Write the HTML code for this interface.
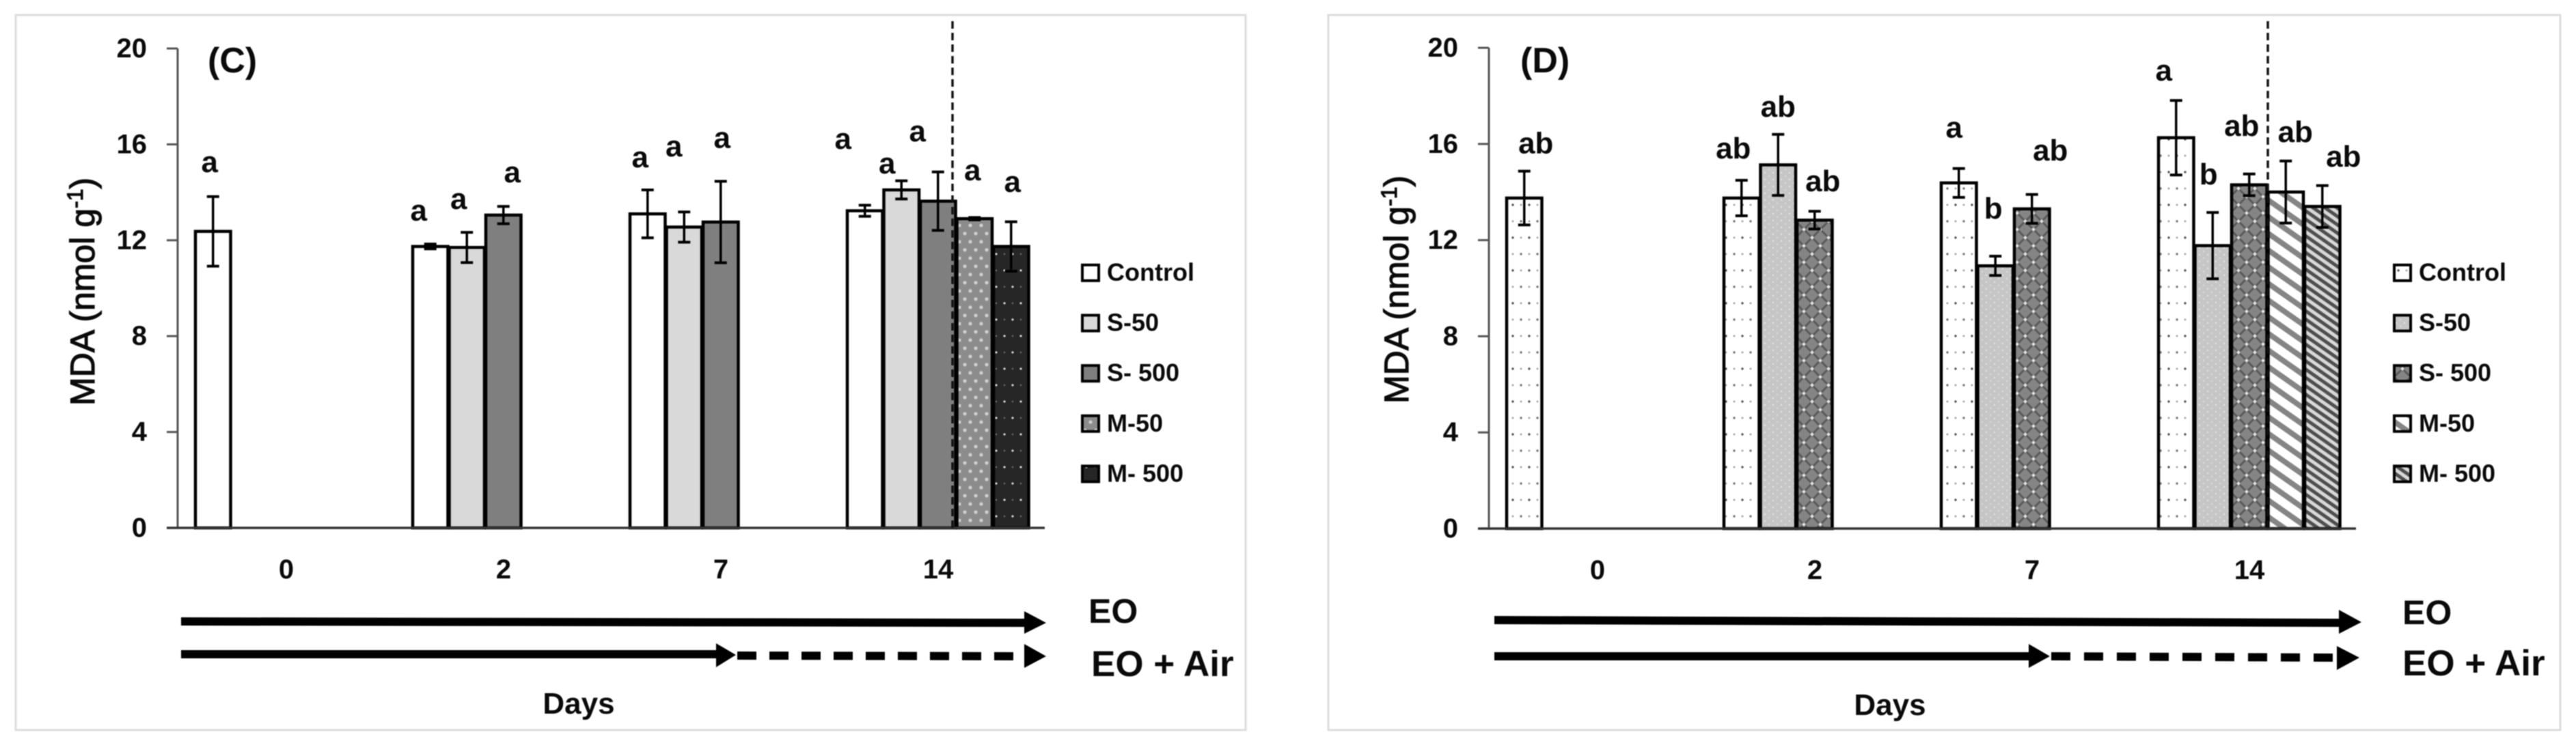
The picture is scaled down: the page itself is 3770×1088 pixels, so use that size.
<!DOCTYPE html>
<html lang="en">
<head>
<meta charset="utf-8">
<title>MDA content panels C and D</title>
<style>
html,body{margin:0;padding:0;background:#fff;width:3770px;height:1088px;overflow:hidden}
svg{display:block;filter:blur(0.7px)}
text{font-family:"Liberation Sans",sans-serif;fill:#0a0a0a}
.b{font-weight:700}
</style>
</head>
<body>
<svg id="figure" xmlns="http://www.w3.org/2000/svg" width="3770" height="1088" viewBox="0 0 3770 1088">
  <defs>
    <pattern id="pWhite" patternUnits="userSpaceOnUse" width="10" height="10"><rect width="10" height="10" fill="#fff"/></pattern>
    <pattern id="pLight" patternUnits="userSpaceOnUse" width="10" height="10"><rect width="10" height="10" fill="#d9d9d9"/></pattern>
    <pattern id="pMid" patternUnits="userSpaceOnUse" width="10" height="10"><rect width="10" height="10" fill="#7f7f7f"/></pattern>
    <pattern id="pGrayDots" patternUnits="userSpaceOnUse" width="16" height="24">
      <rect width="16" height="24" fill="#8c8c8c"/>
      <circle cx="4" cy="6" r="2.6" fill="#cfcfcf"/><circle cx="12" cy="18" r="2.6" fill="#cfcfcf"/>
    </pattern>
    <pattern id="pDarkDots" patternUnits="userSpaceOnUse" width="24" height="48">
      <rect width="24" height="48" fill="#262626"/>
      <circle cx="6" cy="12" r="1.6" fill="#dcdcdc"/><circle cx="18" cy="36" r="1.6" fill="#dcdcdc"/>
      <circle cx="6" cy="36" r="1.2" fill="#777"/><circle cx="18" cy="12" r="1.2" fill="#777"/>
    </pattern>
    <pattern id="pWhiteDots" patternUnits="userSpaceOnUse" width="24" height="48">
      <rect width="24" height="48" fill="#fff"/>
      <circle cx="6" cy="12" r="1.7" fill="#555"/><circle cx="18" cy="36" r="1.7" fill="#777"/>
      <circle cx="6" cy="36" r="1.4" fill="#999"/><circle cx="18" cy="12" r="1.4" fill="#999"/>
    </pattern>
    <pattern id="pSilverDots" patternUnits="userSpaceOnUse" width="12" height="10">
      <rect width="12" height="10" fill="#c6c6c6"/>
      <circle cx="3" cy="3" r="1.2" fill="#e6e6e6"/><circle cx="9" cy="8" r="1.2" fill="#dcdcdc"/>
    </pattern>
    <pattern id="pLattice" patternUnits="userSpaceOnUse" width="24" height="24">
      <rect width="24" height="24" fill="#858585"/>
      <path d="M0 0L24 24M24 0L0 24" stroke="#5a5a5a" stroke-width="3"/>
      <circle cx="12" cy="12" r="2.4" fill="#e0e0e0"/><circle cx="0" cy="0" r="2.4" fill="#e0e0e0"/>
      <circle cx="24" cy="0" r="2.4" fill="#e0e0e0"/><circle cx="0" cy="24" r="2.4" fill="#e0e0e0"/><circle cx="24" cy="24" r="2.4" fill="#e0e0e0"/>
    </pattern>
    <pattern id="pWideStripe" patternUnits="userSpaceOnUse" width="20" height="20" patternTransform="rotate(35)">
      <rect width="20" height="20" fill="#fff"/><rect y="12" width="20" height="8" fill="#858585"/>
    </pattern>
    <pattern id="pFineStripe" patternUnits="userSpaceOnUse" width="10" height="10" patternTransform="rotate(35)">
      <rect width="10" height="10" fill="#d8d8d8"/><rect y="5" width="10" height="5" fill="#4f4f4f"/>
    </pattern>
  </defs>

  <rect x="23" y="22" width="1800" height="1047" fill="#fff" stroke="#dcdcdc" stroke-width="3"/>
  <rect x="1944" y="22" width="1803" height="1047" fill="#fff" stroke="#dcdcdc" stroke-width="3"/>

  <g id="panelC"></g>
  <g id="panelD"></g>

  <text class="b" x="304" y="106" font-size="52">(C)</text>
  <text class="b" x="2225" y="106" font-size="52">(D)</text>

  <text transform="translate(138 594) rotate(-90)" font-size="50" stroke="#0a0a0a" stroke-width="1.2">MDA (nmol g<tspan dy="-17" font-size="32">-1</tspan><tspan dy="17">)</tspan></text>
  <text transform="translate(2061 591) rotate(-90)" font-size="50" stroke="#0a0a0a" stroke-width="1.2">MDA (nmol g<tspan dy="-17" font-size="32">-1</tspan><tspan dy="17">)</tspan></text>

  <g>
    <polygon points="265,904 1500,906 1500,918 265,916" fill="#000"/>
    <polygon points="1499,895 1531,912 1499,928" fill="#000"/>
  </g>
  <g>
    <rect x="265" y="952" width="785" height="12" fill="#000"/>
    <polygon points="1048,942 1077,959 1048,977" fill="#000"/>
    <line x1="1079" y1="960" x2="1499" y2="961" stroke="#000" stroke-width="12" stroke-dasharray="28 19"/>
    <polygon points="1499,943 1531,961 1499,978" fill="#000"/>
  </g>
  <g>
    <polygon points="2187,902 3424,906 3424,918 2187,914" fill="#000"/>
    <polygon points="3423,893 3456,911 3423,928" fill="#000"/>
  </g>
  <g>
    <rect x="2187" y="955" width="784" height="12" fill="#000"/>
    <polygon points="2969,943 3000,961 2969,978" fill="#000"/>
    <line x1="3002" y1="961" x2="3420" y2="963" stroke="#000" stroke-width="12" stroke-dasharray="28 20"/>
    <polygon points="3420,946 3453,963 3420,981" fill="#000"/>
  </g>

  <text class="b" x="1593" y="912" font-size="50">EO</text>
  <text class="b" x="1597" y="990" font-size="53">EO + Air</text>
  <text class="b" x="3516" y="914" font-size="50">EO</text>
  <text class="b" x="3516" y="989" font-size="53">EO + Air</text>
  <text class="b" x="847" y="1045" font-size="44" text-anchor="middle">Days</text>
  <text class="b" x="2766" y="1047" font-size="44" text-anchor="middle">Days</text>
</svg>

<script>
// ---- shared categories and axis ticks ----
const dayLabels = ['0', '2', '7', '14'];
const yTickValues = [0, 4, 8, 12, 16, 20];
const seriesNames = ['Control', 'S-50', 'S- 500', 'M-50', 'M- 500'];

// ---- panel C values: one entry per day, null where no bar exists ----
const cControl = [12.37, 11.74, 13.1, 13.23];
const cS50 = [null, 11.7, 12.55, 14.1];
const cS500 = [null, 13.05, 12.76, 13.63];
const cM50 = [null, null, null, 12.9];
const cM500 = [null, null, null, 11.74];

const cControlErr = [1.45, 0.1, 1.0, 0.23];
const cS50Err = [null, 0.63, 0.63, 0.38];
const cS500Err = [null, 0.36, 1.7, 1.22];
const cM50Err = [null, null, null, 0.05];
const cM500Err = [null, null, null, 1.03];

const cControlLetters = ['a', 'a', 'a', 'a'];
const cS50Letters = [null, 'a', 'a', 'a'];
const cS500Letters = [null, 'a', 'a', 'a'];
const cM50Letters = [null, null, null, 'a'];
const cM500Letters = [null, null, null, 'a'];

// ---- panel D values ----
const dControl = [13.75, 13.75, 14.38, 16.26];
const dS50 = [null, 15.13, 10.93, 11.77];
const dS500 = [null, 12.83, 13.3, 14.3];
const dM50 = [null, null, null, 14.0];
const dM500 = [null, null, null, 13.4];

const dControlErr = [1.12, 0.74, 0.6, 1.55];
const dS50Err = [null, 1.27, 0.4, 1.38];
const dS500Err = [null, 0.37, 0.6, 0.45];
const dM50Err = [null, null, null, 1.29];
const dM500Err = [null, null, null, 0.87];

const dControlLetters = ['ab', 'ab', 'a', 'a'];
const dS50Letters = [null, 'ab', 'b', 'b'];
const dS500Letters = [null, 'ab', 'ab', 'ab'];
const dM50Letters = [null, null, null, 'ab'];
const dM500Letters = [null, null, null, 'ab'];

const SVGNS = 'http://www.w3.org/2000/svg';
function mk(parent, tag, attrs, txt) {
  const n = document.createElementNS(SVGNS, tag);
  for (const k in attrs) n.setAttribute(k, attrs[k]);
  if (txt !== undefined) n.textContent = txt;
  parent.appendChild(n);
  return n;
}

function drawPanel(cfg) {
  const g = document.getElementById(cfg.id);
  const catW = 318, barW = 53.5, inset = 25, yMax = 20;
  const unit = (cfg.baseY - cfg.topY) / yMax;
  const yOf = v => cfg.baseY - v * unit;
  const xOf = (cat, s) => cfg.axisX + inset + cat * catW + s * barW;
  const endX = cfg.axisX + dayLabels.length * catW;

  // y axis with ticks and tick labels
  const yLine = mk(g, 'line', {x1: cfg.axisX, y1: yOf(yMax), x2: cfg.axisX, y2: cfg.baseY, stroke: '#555', 'stroke-width': 3});
  
  
  yTickValues.forEach(v => {
    const t = mk(g, 'line', {x1: cfg.axisX - 16, y1: yOf(v), x2: cfg.axisX, y2: yOf(v), stroke: '#555', 'stroke-width': 3});
    
    
    const lab = mk(g, 'text', {x: cfg.axisX - 45, y: yOf(v) + 13, 'font-size': 40, 'text-anchor': 'end', class: 'b'}, String(v));
    
    
  });

  // bars, then error bars and letters on top
  cfg.series.forEach((s, si) => {
    s.values.forEach((v, ci) => {
      if (v === null) return;
      const bx = xOf(ci, si);
      const r = mk(g, 'rect', {x: bx + 1, y: yOf(v), width: barW - 2, height: cfg.baseY - yOf(v), fill: 'url(#' + s.fill + ')', stroke: '#000', 'stroke-width': 4.5});
      
      
    });
  });
  cfg.series.forEach((s, si) => {
    s.values.forEach((v, ci) => {
      if (v === null) return;
      const cx = xOf(ci, si) + barW / 2;
      const e = s.errs[ci];
      const eg = mk(g, 'g', {stroke: '#000', 'stroke-width': 3.5});
      
      
      mk(eg, 'line', {x1: cx, y1: yOf(v + e), x2: cx, y2: yOf(v - e)});
      mk(eg, 'line', {x1: cx - 9, y1: yOf(v + e), x2: cx + 9, y2: yOf(v + e), 'stroke-width': 4});
      mk(eg, 'line', {x1: cx - 9, y1: yOf(v - e), x2: cx + 9, y2: yOf(v - e), 'stroke-width': 4});
      const l = mk(g, 'text', {x: cx + s.nudge[ci], y: yOf(v + e + s.lift[ci]), 'font-size': 44, 'text-anchor': 'middle', class: 'b'}, s.letters[ci]);
      
      
    });
  });

  // baseline over the bars
  const base = mk(g, 'line', {x1: cfg.axisX - 16, y1: cfg.baseY, x2: endX - 3, y2: cfg.baseY, stroke: '#333', 'stroke-width': 3.5});
  
  

  // category labels
  dayLabels.forEach((d, ci) => {
    const cl = mk(g, 'text', {x: cfg.axisX + catW * (ci + 0.5), y: cfg.baseY + 74, 'font-size': 40, 'text-anchor': 'middle', class: 'b'}, d);
    
    
  });

  // dashed divider
  const div = mk(g, 'line', {x1: cfg.dividerX, y1: 31, x2: cfg.dividerX, y2: cfg.baseY + 4, stroke: '#111', 'stroke-width': 3.5, 'stroke-dasharray': '11 6'});
  
  

  // legend
  seriesNames.forEach((name, i) => {
    const ly = 386 + i * 73.6;
    const entry = mk(g, 'g', {});
    
    
    mk(entry, 'rect', {x: cfg.legendX + 2, y: ly + 2, width: 24, height: 23, fill: 'url(#' + cfg.series[i].fill + ')', stroke: '#000', 'stroke-width': 4});
    mk(entry, 'text', {x: cfg.legendX + 38, y: ly + 25, 'font-size': 36, class: 'b'}, name);
  });
}

drawPanel({
  id: 'panelC', axisX: 260, baseY: 773, topY: 71, dividerX: 1394, legendX: 1582,
  series: [
    {fill: 'pWhite', values: cControl, errs: cControlErr, letters: cControlLetters, lift: [1.02, 0.98, 0.94, 2.35], nudge: [-5, -17, -11, -32]},
    {fill: 'pLight', values: cS50, errs: cS50Err, letters: cS50Letters, lift: [0, 0.97, 2.32, 0.31], nudge: [0, -12, -15, -21]},
    {fill: 'pMid', values: cS500, errs: cS500Err, letters: cS500Letters, lift: [0, 1.0, 1.4, 1.28], nudge: [0, 13, 2, -30]},
    {fill: 'pGrayDots', values: cM50, errs: cM50Err, letters: cM50Letters, lift: [0, 0, 0, 1.55], nudge: [0, 0, 0, -3]},
    {fill: 'pDarkDots', values: cM500, errs: cM500Err, letters: cM500Letters, lift: [0, 0, 0, 1.25], nudge: [0, 0, 0, 2]}
  ]
});

drawPanel({
  id: 'panelD', axisX: 2179, baseY: 774, topY: 70, dividerX: 3319, legendX: 3502,
  series: [
    {fill: 'pWhiteDots', values: dControl, errs: dControlErr, letters: dControlLetters, lift: [0.74, 0.91, 1.28, 0.83], nudge: [17, -12, -7, -18]},
    {fill: 'pSilverDots', values: dS50, errs: dS50Err, letters: dS50Letters, lift: [0, 0.73, 1.57, 1.17], nudge: [0, 0, -3, -6]},
    {fill: 'pLattice', values: dS500, errs: dS500Err, letters: dS500Letters, lift: [0, 0.83, 1.41, 1.59], nudge: [0, 12, 27, -11]},
    {fill: 'pWideStripe', values: dM50, errs: dM50Err, letters: dM50Letters, lift: [0, 0, 0, 0.79], nudge: [0, 0, 0, 14]},
    {fill: 'pFineStripe', values: dM500, errs: dM500Err, letters: dM500Letters, lift: [0, 0, 0, 0.79], nudge: [0, 0, 0, 31]}
  ]
});
</script>
</body>
</html>
